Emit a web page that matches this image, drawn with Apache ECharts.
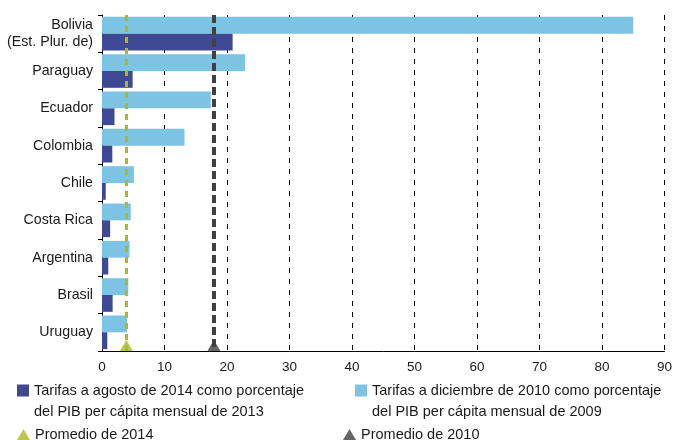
<!DOCTYPE html>
<html><head><meta charset="utf-8">
<script src="https://cdn.jsdelivr.net/npm/echarts@6/dist/echarts.min.js"></script>
<style>html,body{margin:0;padding:0;background:#fff}#c{width:675px;height:440px}</style>
</head><body><div id="c"></div>
<script>
const categories = ['Bolivia\n(Est. Plur. de)', 'Paraguay', 'Ecuador', 'Colombia', 'Chile', 'Costa Rica', 'Argentina', 'Brasil', 'Uruguay'];
const tarifas2010 = [85, 22.9, 17.4, 13.2, 5.1, 4.6, 4.4, 4.2, 4.0];
const tarifas2014 = [20.9, 4.9, 2.0, 1.65, 0.6, 1.3, 1.0, 1.7, 0.85];
const promedio2014 = 3.9;
const promedio2010 = 17.9;
const xTicks = [0, 10, 20, 30, 40, 50, 60, 70, 80, 90];

const name2014 = 'Tarifas a agosto de 2014 como porcentaje\ndel PIB per cápita mensual de 2013';
const name2010 = 'Tarifas a diciembre de 2010 como porcentaje\ndel PIB per cápita mensual de 2009';
const nameP14 = 'Promedio de 2014';
const nameP10 = 'Promedio de 2010';

const FONT = 'Liberation Sans, Arial, sans-serif';
const cLight = '#7dc3e3', cDark = '#3f4993', cGreen = '#a9bb1f', cGray = '#404040';
// square at the top of the icon box (aligned with the first text line)
const topSquare = 'path://M0,0H12V12H0Z M0,32.95H0.05V33H0Z';

const chart = echarts.init(document.getElementById('c'), null, {renderer: 'canvas'});
const legendText = {fontFamily: FONT, fontSize: 14.5, color: '#1a1a1a', lineHeight: 21};
function leg(name, left, top, icon, w, h) {
  return {data: [name], left: left, top: top, icon: icon, itemWidth: w, itemHeight: h,
    itemGap: 0, textStyle: legendText, selectedMode: false, padding: 0};
}
chart.setOption({
  animation: false,
  textStyle: {fontFamily: FONT},
  grid: {left: 102, right: 10, top: 15, bottom: 89, containLabel: false},
  legend: [
    leg(name2014, 17, 380, topSquare, 12, 33),
    leg(name2010, 355, 380, topSquare, 12, 33),
    leg(nameP14, 17, 424, 'triangle', 13, 11),
    leg(nameP10, 343, 424, 'triangle', 13, 11)
  ],
  xAxis: {
    type: 'value', min: xTicks[0], max: xTicks[xTicks.length - 1], interval: 10,
    axisLine: {show: true, lineStyle: {color: '#000', width: 1}},
    axisTick: {show: false},
    axisLabel: {fontFamily: FONT, fontSize: 13.5, color: '#1a1a1a', margin: 9},
    splitLine: {show: true, lineStyle: {color: '#000', type: [5, 6], width: 1}}
  },
  yAxis: [{
    type: 'category', data: categories, inverse: true,
    axisLine: {show: true, lineStyle: {color: '#000', width: 1}},
    axisTick: {show: true, length: 4, lineStyle: {color: '#000'}},
    axisLabel: {fontFamily: FONT, fontSize: 14.2, color: '#1a1a1a', margin: 9, lineHeight: 17}
  }, {
    type: 'value', min: 0, max: 1, show: false
  }],
  series: [
    {name: name2010, type: 'bar', data: tarifas2010, itemStyle: {color: cLight},
     barGap: '0%', barCategoryGap: '10%',
     markLine: {silent: true, symbol: 'none', label: {show: false},
       data: [{xAxis: promedio2014, lineStyle: {color: cGreen, width: 3, type: [6, 5]}},
              {xAxis: promedio2010, lineStyle: {color: cGray, width: 4, type: [8, 4]}}]}},
    {name: name2014, type: 'bar', data: tarifas2014, itemStyle: {color: cDark},
     barGap: '0%', barCategoryGap: '10%'},
    {name: nameP14, type: 'scatter', yAxisIndex: 1, data: [[promedio2014, 0]],
     symbol: 'triangle', symbolSize: [13, 11], symbolOffset: [0, '-50%'],
     itemStyle: {color: cGreen}, z: 5},
    {name: nameP10, type: 'scatter', yAxisIndex: 1, data: [[promedio2010, 0]],
     symbol: 'triangle', symbolSize: [13, 11], symbolOffset: [0, '-50%'],
     itemStyle: {color: cGray}, z: 5}
  ]
});
</script></body></html>
